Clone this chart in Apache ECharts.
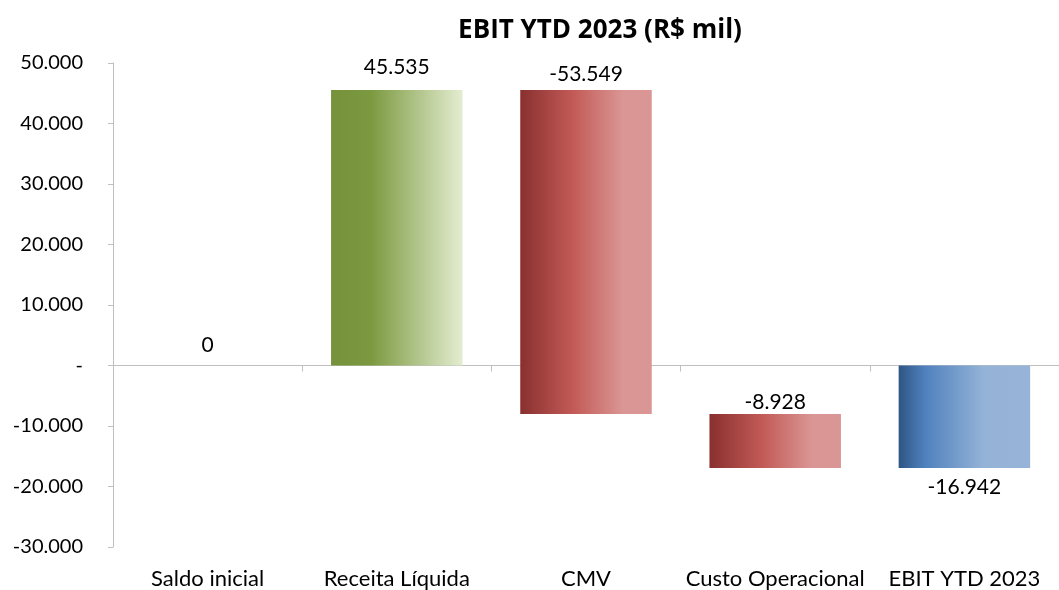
<!DOCTYPE html>
<html>
<head>
<meta charset="utf-8">
<script src="https://cdn.jsdelivr.net/npm/echarts@6/dist/echarts.min.js"></script>
<style>
  html, body { margin: 0; padding: 0; background: #fff; }
  #chart { width: 1059px; height: 590px; }
</style>
</head>
<body>
<div id="chart"></div>
<script>
  // dados do gráfico (R$ mil)
  const categories = ['Saldo inicial', 'Receita Líquida', 'CMV', 'Custo Operacional', 'EBIT YTD 2023'];
  const deltas = [0, 45535, -53549, -8928, -16942];
  const isTotal = [false, false, false, false, true];
  const labelPos = ['top', 'top', 'top', 'top', 'bottom'];
  const yTicks = { min: -30000, max: 50000, interval: 10000 };

  const font = 'Lato';
  // distância do rótulo até a barra (px), como no original
  const labelGap = [10, 12, 5, 1, 9];

  function fmt(v) {
    if (v === 0) return '-';
    const s = Math.abs(v).toString().replace(/\B(?=(\d{3})+(?!\d))/g, '.');
    return (v < 0 ? '-' : '') + s;
  }

  function grad(stops) {
    return new echarts.graphic.LinearGradient(0, 0, 1, 0,
      stops.map(s => ({offset: s[0], color: s[1]})));
  }

  const green = grad([[0, '#76923C'], [0.3, '#7B993F'], [1, '#E4EDD1']]);
  const red = grad([[0, '#89302F'], [0.4, '#C25A56'], [0.78, '#DA9694'], [1, '#DA9694']]);
  const blue = grad([[0, '#2E5585'], [0.2, '#4F81BD'], [0.65, '#95B3D7'], [1, '#97B4D8']]);

  // monta início/fim de cada barra (cascata)
  let acc = 0;
  const bars = deltas.map((d, i) => {
    let start, end;
    if (isTotal[i]) { start = 0; end = d; acc = d; }
    else { start = acc; end = acc + d; acc = end; }
    return [i, start, end, d];
  });

  function fillFor(i, d) {
    if (isTotal[i]) return blue;
    return d >= 0 ? green : red;
  }

  function renderItem(params, api) {
    const i = api.value(0);
    const s = api.value(1), e = api.value(2), d = api.value(3);
    const top = api.coord([i, Math.max(s, e)]);
    const bot = api.coord([i, Math.min(s, e)]);
    const w = api.size([1, 0])[0] * 0.695;
    const children = [];
    if (bot[1] - top[1] > 0) {
      children.push({
        type: 'rect',
        shape: {x: top[0] - w / 2, y: top[1], width: w, height: bot[1] - top[1]},
        style: {fill: fillFor(i, d)}
      });
    }
    const pos = labelPos[i];
    children.push({
      type: 'text',
      style: {
        text: d === 0 ? '0' : fmt(d),
        x: top[0],
        y: pos === 'top' ? top[1] - labelGap[i] : bot[1] + labelGap[i],
        align: 'center',
        verticalAlign: pos === 'top' ? 'bottom' : 'top',
        fill: '#000',
        fontSize: 21,
        fontFamily: font
      }
    });
    return {type: 'group', children: children};
  }

  const chart = echarts.init(document.getElementById('chart'));

  chart.setOption({
    animation: false,
    title: {
      text: 'EBIT YTD 2023 (R$ mil)',
      left: 595,
      textAlign: 'center',
      top: 13,
      textStyle: {fontFamily: 'Open Sans', fontSize: 26, fontWeight: 'bold', color: '#000'}
    },
    grid: {left: 113, right: 0, top: 63, bottom: 42},
    xAxis: [{
      type: 'category',
      data: categories,
      axisLine: {onZero: true, lineStyle: {color: '#BFBFBF', width: 1}},
      axisTick: {show: true, length: 6, lineStyle: {color: '#BFBFBF'}},
      axisLabel: {show: false}
    }, {
      type: 'category',
      data: categories,
      position: 'bottom',
      axisLine: {show: false},
      axisTick: {show: false},
      axisLabel: {color: '#000', fontSize: 22, fontFamily: font, margin: 21, interval: 0}
    }],
    yAxis: {
      type: 'value',
      min: yTicks.min,
      max: yTicks.max,
      interval: yTicks.interval,
      axisLine: {show: true, lineStyle: {color: '#BFBFBF'}},
      axisTick: {show: true, length: 5, lineStyle: {color: '#BFBFBF'}},
      splitLine: {show: false},
      axisLabel: {
        color: '#000', fontSize: 20, fontFamily: font, margin: 30,
        formatter: fmt
      }
    },
    series: [{
      type: 'custom',
      xAxisIndex: 0,
      renderItem: renderItem,
      encode: {x: 0, y: [1, 2]},
      data: bars
    }]
  });
</script>
</body>
</html>
